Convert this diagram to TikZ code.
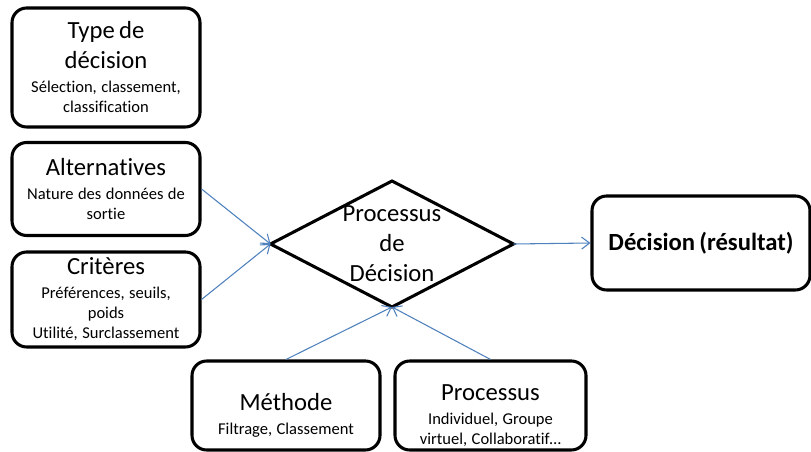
\documentclass[tikz,border=0pt]{standalone}
\usepackage{fontspec}
\setmainfont{Carlito}[Ligatures=CommonOff]
\usetikzlibrary{arrows.meta,shapes.geometric}
\definecolor{arrowblue}{HTML}{4F81BD}
\newcommand\ttlf{\fontsize{18.5}{22.5}\selectfont}
\newcommand\subf{\fontsize{12.4}{15}\selectfont}
\newcommand\gapsub{\vspace{3pt}}
\begin{document}
\begin{tikzpicture}[x=0.75pt,y=-0.75pt,
  box/.style={draw=black,line width=2.3pt,rounded corners=11pt,inner sep=0pt,
    align=center,text width=#1},
  box/.default=141pt,
  boxtext/.style={inner sep=0pt,align=center,text width=#1},
  boxtext/.default=141pt,
  link/.style={draw=arrowblue,line width=0.8pt,-{Straight Barb[length=6pt,width=9pt]}}]
\useasboundingbox (0,0) rectangle (811,452);
\node[box,minimum height=89.25pt] (type) at (106,67.5)
  {{\ttlf Type de\\décision\par}\gapsub{\subf Sélection, classement,\\classification\par}};
\node[box,minimum height=69.75pt] (alt) at (106,189)
  {{\ttlf Alternatives\par}\gapsub{\subf Nature des données de\\sortie\par}};
\node[box,minimum height=71.25pt] (crit) at (106,299.5)
  {{\ttlf Critères\par}\gapsub{\subf Préférences, seuils,\\poids\\Utilité, Surclassement\par}};
\node[box,minimum height=66.75pt] (meth) at (286,405.5) {};
\node[boxtext] (methtxt) at (286,415)
  {{\ttlf Méthode\par}\gapsub{\subf Filtrage, Classement\par}};
\node[box=143.25pt,minimum height=66.75pt] (procb) at (490.5,405.5) {};
\node[boxtext=143.25pt] (procbtxt) at (490.5,416)
  {{\ttlf Processus\par}\gapsub{\subf Individuel, Groupe\\virtuel, Collaboratif\dots\par}};
\node[box=163.5pt,minimum height=70.5pt] (dec) at (701,243)
  {{\ttlf\bfseries Décision\,(résultat)\par}};
\node[draw=black,line width=2.3pt,shape=diamond,inner sep=0pt,outer sep=0pt,
  minimum width=182.25pt,minimum height=94.5pt] (proc) at (392,244) {};
\node[align=center,font=\ttlf,inner sep=0pt] (proctxt) at (proc.center)
  {Processus\\de\\Décision};
\draw[link] (alt.east) -- (proc.west);
\draw[link] (crit.east) -- (proc.west);
\draw[link] (meth.north) -- (proc.south);
\draw[link] (procb.north) -- (proc.south);
\draw[link] (proc.east) -- (dec.west);
\end{tikzpicture}
\end{document}
